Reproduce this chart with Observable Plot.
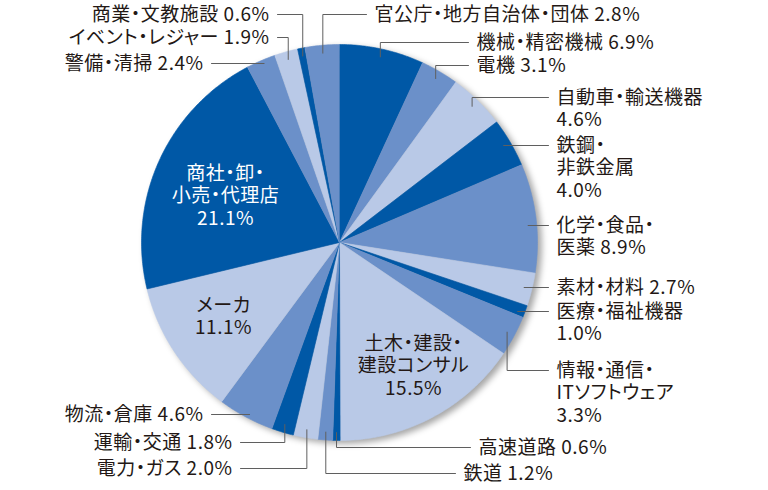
<!DOCTYPE html>
<html><head><meta charset="utf-8">
<script src="https://cdn.jsdelivr.net/npm/d3@7"></script>
<script src="https://cdn.jsdelivr.net/npm/@observablehq/plot@0.6"></script>
<style>body{margin:0;background:#fff}</style>
</head><body><div id="chart"></div>
<script>
// ---- data ----
const categories = ["機械・精密機械","電機","自動車・輸送機器","鉄鋼・非鉄金属","化学・食品・医薬","素材・材料","医療・福祉機器","情報・通信・ITソフトウェア","土木・建設・建設コンサル","高速道路","鉄道","電力・ガス","運輸・交通","物流・倉庫","メーカ","商社・卸・小売・代理店","警備・清掃","イベント・レジャー","商業・文教施設","官公庁・地方自治体・団体"];
const shares = [6.9,3.1,4.6,4.0,8.9,2.7,1.0,3.3,15.5,0.6,1.2,2.0,1.8,4.6,11.1,21.1,2.4,1.9,0.6,2.8];
const tones = ["dark","mid","light","dark","mid","light","dark","mid","light","dark","mid","light","dark","mid","light","dark","mid","light","dark","mid"];
const labelLines = [
  ["機械・精密機械 {v}"],["電機 {v}"],["自動車・輸送機器","{v}"],["鉄鋼・","非鉄金属","{v}"],
  ["化学・食品・","医薬 {v}"],["素材・材料 {v}"],["医療・福祉機器","{v}"],["情報・通信・","ITソフトウェア","{v}"],
  ["土木・建設・","建設コンサル","{v}"],["高速道路 {v}"],["鉄道 {v}"],["電力・ガス {v}"],["運輸・交通 {v}"],
  ["物流・倉庫 {v}"],["メーカ","{v}"],["商社・卸・","小売・代理店","{v}"],["警備・清掃 {v}"],
  ["イベント・レジャー {v}"],["商業・文教施設 {v}"],["官公庁・地方自治体・団体 {v}"]
];
// ---- layout (pixels) ----
const W = 768, H = 490, CX = 339, CY = 242, R = 198;
const labelLayout = [
  {anchor:"start", x:476, y:42, leader:"elbow"},
  {anchor:"start", x:476, y:65, leader:"elbow"},
  {anchor:"start", x:556, y:97, leader:"elbow"},
  {anchor:"start", x:556, y:145, leader:"h"},
  {anchor:"start", x:556, y:225, leader:"h"},
  {anchor:"start", x:556, y:287, leader:"h"},
  {anchor:"start", x:556, y:311, leader:"h"},
  {anchor:"start", x:556, y:370, leader:"elbow"},
  {anchor:"middle", x:413, y:343, leader:"none", color:"dark"},
  {anchor:"start", x:478, y:447, leader:"elbow"},
  {anchor:"start", x:463, y:473, leader:"elbow"},
  {anchor:"end", x:232, y:468, leader:"elbow"},
  {anchor:"end", x:232, y:442, leader:"elbow"},
  {anchor:"end", x:203, y:414, leader:"h"},
  {anchor:"middle", x:223, y:305, leader:"none", color:"dark"},
  {anchor:"middle", x:225, y:173, leader:"none", color:"white"},
  {anchor:"end", x:203, y:63, leader:"h"},
  {anchor:"end", x:269, y:37, leader:"elbow"},
  {anchor:"end", x:269, y:14, leader:"elbow"},
  {anchor:"start", x:374, y:14, leader:"elbow"}
];
const LINE_GAP = 22.5, TEXT_GAP = 8;
const px = v => (v - CX) / R, py = v => (CY - v) / R;

// ---- geometry ----
const arcs = d3.pie().sort(null).value(d => d)(shares);
const slicePts = [];
arcs.forEach((a, i) => {
  slicePts.push({name: categories[i], tone: tones[i], x: 0, y: 0});
  const n = Math.max(2, Math.ceil((a.endAngle - a.startAngle) / 0.01));
  for (let k = 0; k <= n; k++) {
    const t = a.startAngle + (a.endAngle - a.startAngle) * k / n;
    slicePts.push({name: categories[i], tone: tones[i], x: Math.sin(t), y: Math.cos(t)});
  }
});

const textRows = [], leaderPts = [];
arcs.forEach((a, i) => {
  const L = labelLayout[i];
  const val = shares[i].toFixed(1) + "%";
  labelLines[i].forEach((s, j) => {
    textRows.push({anchor: L.anchor, color: L.color || "dark", text: s.replace("{v}", val), x: px(L.x), y: py(L.y + j * LINE_GAP)});
  });
  if (L.leader !== "none") {
    const m = (a.startAngle + a.endAngle) / 2;
    const P = {x: 0.96 * Math.sin(m), y: 0.96 * Math.cos(m)};
    const sx = L.anchor === "start" ? L.x - TEXT_GAP : L.x + TEXT_GAP;
    leaderPts.push({name: categories[i], x: px(sx), y: py(L.y)});
    leaderPts.push({name: categories[i], x: P.x, y: py(L.y)});
    if (L.leader === "elbow") leaderPts.push({name: categories[i], x: P.x, y: P.y});
  }
});

const font = {fontFamily: "'Noto Sans CJK JP', 'Noto Sans', sans-serif", fontSize: 19};
const textOpts = (anchor) => ({x: "x", y: "y", text: "text", textAnchor: anchor, lineAnchor: "middle", ...font});

const chart = Plot.plot({
  width: W, height: H,
  marginTop: 0, marginRight: 0, marginBottom: 0, marginLeft: 0,
  x: {domain: [px(0), px(W)], axis: null},
  y: {domain: [py(H), py(0)], axis: null},
  color: {domain: ["dark","mid","light"], range: ["#0058a6","#6b90c9","#b9c9e7"]},
  style: {fontFeatureSettings: '"palt"', letterSpacing: "0.5px", background: "#fff"},
  marks: [
    Plot.line(slicePts, {x: "x", y: "y", z: "name", fill: "tone", stroke: "tone", strokeWidth: 0.6, curve: "linear", ariaDescription: "pie"}),
    Plot.line(leaderPts, {x: "x", y: "y", z: "name", stroke: "#5f5f5f", strokeWidth: 1, curve: "linear"}),
    Plot.text(textRows.filter(d => d.anchor === "start"), {...textOpts("start"), fill: "#231815"}),
    Plot.text(textRows.filter(d => d.anchor === "end"), {...textOpts("end"), fill: "#231815"}),
    Plot.text(textRows.filter(d => d.anchor === "middle" && d.color === "dark"), {...textOpts("middle"), fill: "#231815"}),
    Plot.text(textRows.filter(d => d.anchor === "middle" && d.color === "white"), {...textOpts("middle"), fill: "#ffffff"})
  ]
});
document.getElementById("chart").appendChild(chart);
d3.select(chart).select('g[aria-description="pie"]').style("filter", "drop-shadow(4px 3px 3px rgba(0,0,0,0.35))");
</script>
</body></html>
